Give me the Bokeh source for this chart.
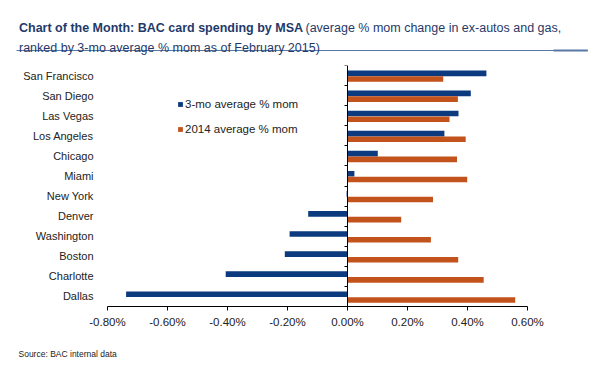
from bokeh.plotting import figure
from bokeh.models import (Range1d, FixedTicker, LinearAxis, PrintfTickFormatter,
                          Label, Legend, LegendItem, ColumnDataSource)
from bokeh.transform import dodge
from bokeh.embed import file_html
from bokeh.resources import INLINE

# ---- data (top to bottom, as ranked) ----
cities = ["San Francisco", "San Diego", "Las Vegas", "Los Angeles", "Chicago", "Miami",
          "New York", "Denver", "Washington", "Boston", "Charlotte", "Dallas"]
mom_3mo = [0.463, 0.411, 0.370, 0.323, 0.101, 0.023,
           -0.003, -0.131, -0.193, -0.209, -0.406, -0.738]
avg_2014 = [0.319, 0.368, 0.340, 0.394, 0.365, 0.399,
            0.285, 0.179, 0.278, 0.369, 0.454, 0.559]
x_ticks = [-0.8, -0.6, -0.4, -0.2, 0.0, 0.2, 0.4, 0.6]
series_names = ["3-mo average % mom", "2014 average % mom"]

BLUE = "#0b3a7e"
ORANGE = "#c2531d"
FONT = "Liberation Sans"
TCOL = "#1f3a6a"
RULE = "#5a78a5"

n = len(cities)
ypos = [n - 0.5 - i for i in range(n)]
src = ColumnDataSource(dict(y=ypos, city=cities, a=mom_3mo, b=avg_2014))

W, H = 600, 375
FL, FB = 107, 306   # frame left / bottom on the page
p = figure(width=W, height=H, output_backend="svg", toolbar_location=None,
           x_range=Range1d(x_ticks[0], x_ticks[-1]), y_range=Range1d(0, n),
           min_border_left=FL, min_border_right=73, min_border_top=65,
           min_border_bottom=H - FB)
p.outline_line_color = None
p.xgrid.grid_line_color = None
p.ygrid.grid_line_color = None
p.background_fill_color = "white"
p.border_fill_color = "white"

r1 = p.hbar(y=dodge("y", 0.11, range=p.y_range), left=0, right="a", height=0.285,
            source=src, fill_color=BLUE, line_color=None)
r2 = p.hbar(y=dodge("y", -0.175, range=p.y_range), left=0, right="b", height=0.28,
            source=src, fill_color=ORANGE, line_color=None)

# x axis
xa = p.xaxis[0]
xa.ticker = FixedTicker(ticks=x_ticks)
xa.formatter = PrintfTickFormatter(format="%.2f%%")
xa.major_tick_out = 4
xa.major_tick_in = 0
xa.minor_tick_line_color = None
xa.axis_line_color = "black"
xa.major_tick_line_color = "black"
xa.major_label_text_font = FONT
xa.major_label_text_font_size = "11.5px"
xa.major_label_text_color = "#222222"
xa.major_label_standoff = 5

# y axis: category labels
ya = p.yaxis[0]
ya.ticker = FixedTicker(ticks=ypos)
ya.major_label_overrides = {y: c for y, c in zip(ypos, cities)}
ya.axis_line_color = None
ya.major_tick_line_color = None
ya.minor_tick_line_color = None
ya.major_label_text_font = FONT
ya.major_label_text_font_size = "11px"
ya.major_label_text_color = "#222222"
ya.major_label_standoff = 8

# zero line axis with boundary ticks (no labels)
bounds = list(range(n + 1))
za = LinearAxis(fixed_location=0, ticker=FixedTicker(ticks=bounds),
                major_label_overrides={b: "" for b in bounds},
                major_tick_out=3, major_tick_in=0,
                minor_tick_line_color=None, axis_line_color="black",
                major_tick_line_color="black")
p.add_layout(za, "left")

# legend
legend = Legend(items=[LegendItem(label=series_names[0], renderers=[r1]),
                       LegendItem(label=series_names[1], renderers=[r2])],
                location=(70, 170), border_line_color=None, background_fill_alpha=0,
                padding=0, margin=0, spacing=11, glyph_width=6, glyph_height=6,
                label_height=14, label_standoff=2, label_text_font=FONT,
                label_text_font_size="11.5px", label_text_color="#222222")
p.add_layout(legend, "center")

# title, rule and source: canvas units (x from left, y from top), in side panels
p.add_layout(Label(x=18.5, y=27, x_units="canvas", y_units="canvas",
                   text="Chart of the Month: BAC card spending by MSA",
                   text_font=FONT, text_font_size="12.5px", text_font_style="bold",
                   text_color=TCOL, text_baseline="alphabetic"), "above")
p.add_layout(Label(x=305, y=27, x_units="canvas", y_units="canvas",
                   text="(average % mom change in ex-autos and gas,",
                   text_font=FONT, text_font_size="12.5px",
                   text_color=TCOL, text_baseline="alphabetic"), "above")
# rule under the title: a blank label whose padded background forms the line
p.add_layout(Label(x=16, y=49.5, x_units="canvas", y_units="canvas", text=" ",
                   text_font_size="1px", text_baseline="top",
                   padding=dict(left=0, right=571, top=0, bottom=0),
                   background_fill_color=RULE, background_fill_alpha=1), "above")
p.add_layout(Label(x=553, y=49, x_units="canvas", y_units="canvas", text=" ",
                   text_font_size="1px", text_baseline="top",
                   padding=dict(left=0, right=34, top=0, bottom=1),
                   background_fill_color=RULE, background_fill_alpha=1), "above")
p.add_layout(Label(x=18.5, y=47, x_units="canvas", y_units="canvas",
                   text="ranked by 3-mo average % mom as of February 2015)",
                   text_font=FONT, text_font_size="12.5px",
                   text_color=TCOL, text_baseline="alphabetic"), "below")
p.add_layout(Label(x=18, y=353, x_units="canvas", y_units="canvas",
                   text="Source: BAC internal data", text_font=FONT,
                   text_font_size="8.5px", text_color="#222222",
                   text_baseline="middle"), "below")

open("out.html", "w").write(file_html(p, INLINE))
